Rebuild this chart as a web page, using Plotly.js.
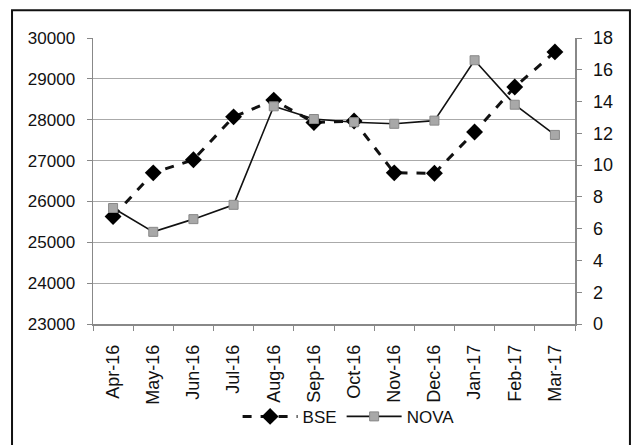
<!DOCTYPE html>
<html>
<head>
<meta charset="utf-8">
<script src="https://cdn.plot.ly/plotly-3.0.1.min.js"></script>
<style>html,body{margin:0;padding:0;background:#fff;}#chart{width:635px;height:445px;}</style>
</head>
<body>
<div id="chart"></div>
<script>
const months = ["Apr-16","May-16","Jun-16","Jul-16","Aug-16","Sep-16","Oct-16","Nov-16","Dec-16","Jan-17","Feb-17","Mar-17"];
const bse = [25630, 26700, 27020, 28070, 28480, 27930, 27970, 26700, 26690, 27700, 28800, 29660];
const nova = [7.3, 5.8, 6.6, 7.5, 13.7, 12.9, 12.7, 12.6, 12.8, 16.6, 13.8, 11.9];
const leftTicks = [23000, 24000, 25000, 26000, 27000, 28000, 29000, 30000];
const rightTicks = [0, 2, 4, 6, 8, 10, 12, 14, 16, 18];

const font = "Liberation Sans, Arial, sans-serif";
const traces = [
  {x: months, y: bse, name: "BSE", type: "scatter", mode: "lines+markers",
   line: {color: "#111", width: 3, dash: "dash"},
   marker: {symbol: "diamond", size: 13, color: "#000"}},
  {x: months, y: nova, name: "NOVA", type: "scatter", mode: "lines+markers", yaxis: "y2",
   line: {color: "#111", width: 1.6},
   marker: {symbol: "square", size: 9, color: "#a8a8a8", line: {color: "#888", width: 1}}}
];
const layout = {
  width: 635, height: 445,
  margin: {l: 93, r: 60, t: 38, b: 120},
  paper_bgcolor: "#fff", plot_bgcolor: "#fff",
  font: {family: font, color: "#111"},
  showlegend: true,
  legend: {orientation: "h", x: 0.3, xanchor: "left", y: -0.32, yanchor: "middle",
           itemwidth: 55, font: {size: 17, family: font, color: "#111"}, bgcolor: "rgba(0,0,0,0)"},
  xaxis: {type: "category", range: [-0.5, 11.5], tickangle: -90, tickson: "boundaries",
          ticks: "outside", ticklen: 5, tickcolor: "#888", showgrid: false,
          showline: true, linecolor: "#888", linewidth: 1.5,
          tickfont: {size: 18, family: font, color: "#111"}, ticklabelstandoff: 12},
  yaxis: {range: [23000, 30000], tickvals: leftTicks, ticktext: leftTicks.map(String),
          showgrid: true, gridcolor: "#aaa", gridwidth: 1.2,
          showline: true, linecolor: "#888", linewidth: 1.5,
          ticks: "outside", ticklen: 5, tickcolor: "#888", zeroline: false,
          tickfont: {size: 17, family: font, color: "#111"}, ticklabelstandoff: 8},
  yaxis2: {range: [0, 18], tickvals: rightTicks, ticktext: rightTicks.map(String),
           overlaying: "y", side: "right", showgrid: false, zeroline: false,
           showline: true, linecolor: "#888", linewidth: 1.5,
           ticks: "outside", ticklen: 5, tickcolor: "#888",
           tickfont: {size: 18, family: font, color: "#111"}, ticklabelstandoff: 8},
  shapes: [{type: "rect", xref: "paper", yref: "paper",
            x0: -0.168, x1: 1.114, y0: -0.6, y1: 1.097,
            line: {color: "#111", width: 2}, fillcolor: "rgba(0,0,0,0)", layer: "below"}]
};
Plotly.newPlot("chart", traces, layout, {displayModeBar: false, staticPlot: true});
</script>
</body>
</html>
